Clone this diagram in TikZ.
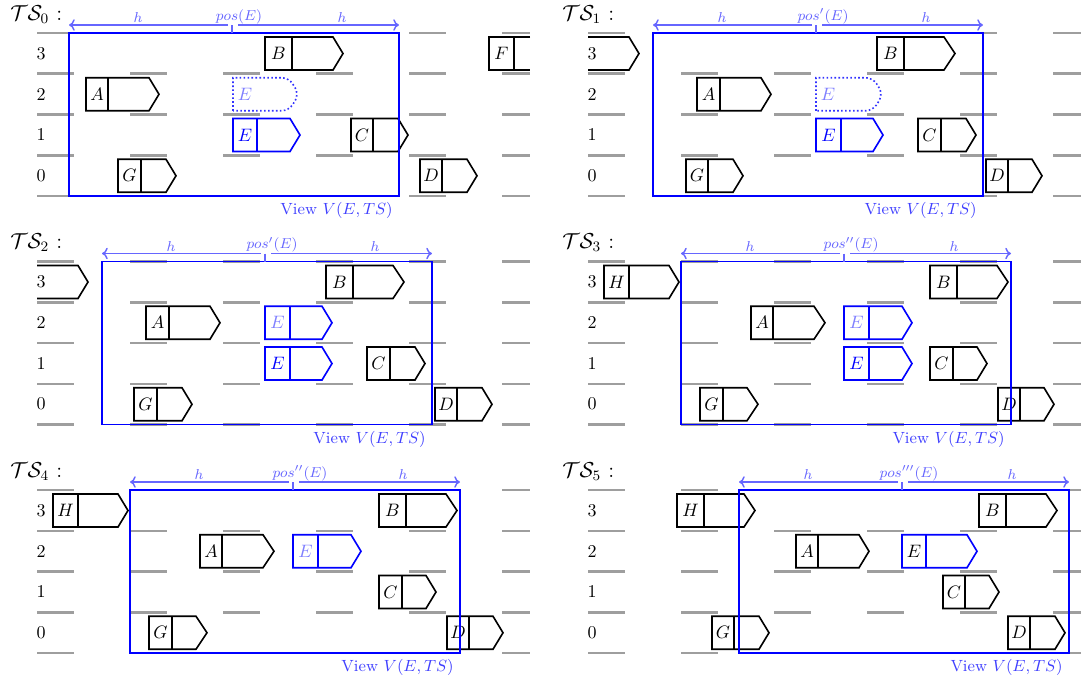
\documentclass[tikz,border=0pt]{standalone}
\usetikzlibrary{arrows.meta}
\begin{document}
\tikzset{
 lane/.style={draw=black!38, line width=1.4pt},
 carline/.style={line width=0.9pt},
 ghostline/.style={draw=blue!80, line width=0.9pt, dash pattern=on 0.9pt off 1.3pt},
 viewbox/.style={draw=blue, line width=0.8pt},
 harrow/.style={draw=blue!60, line width=0.8pt, -{To[length=3.2pt,width=6.4pt]}},
 hlbl/.style={text=blue!60, font=\footnotesize, anchor=base, inner sep=0pt},
 viewlbl/.style={text=blue!75, font=\small, anchor=north east},
 lanenum/.style={inner sep=0pt},
 tslbl/.style={anchor=base west, inner sep=0pt, font=\large},
}
\newcommand{\lanes}[1]{%
 \foreach \i in {0,...,4}{\foreach \j in {0,...,4}{\draw[lane] ({#1+93*\i},{33+40.75*\j}) -- ++(37,0);}}%
 \foreach \j in {0,...,4}{\draw[lane] ({#1+465},{33+40.75*\j}) -- ++(28,0);}%
}
\newcommand{\lanenums}[1]{%
 \foreach \k/\lnum in {0/3,1/2,2/1,3/0}{\node[lanenum] (ln\lnum) at ({#1+4},{53.4+40.75*\k}) {\lnum};}%
}
\newcommand{\mycar}[8]{%
 \pgfmathsetmacro\ct{37+(3-#4)*40.75}%
 \pgfmathsetmacro\cb{\ct+33}%
 \pgfmathsetmacro\cm{\ct+16.5}%
 \draw[carline,draw=#1] (#5,\ct) -- (#7,\ct) -- (#8,\cm) -- (#7,\cb) -- (#5,\cb) -- cycle (#6,\ct) -- (#6,\cb);
 \node[text=#2] (car#3) at ({(#5+#6)/2},\cm) {$#3$};
}
% car cut off on its right side at x=#4
\newcommand{\carcutright}[5]{%
 \pgfmathsetmacro\ct{37+(3-#1)*40.75}%
 \pgfmathsetmacro\cb{\ct+33}%
 \pgfmathsetmacro\cm{\ct+16.5}%
 \draw[carline] (#4,\ct) -- (#2,\ct) -- (#2,\cb) -- (#4,\cb) (#3,\ct) -- (#3,\cb);
 \node (car#5) at ({(#2+#3)/2},\cm) {$#5$};
}
% car cut off on its left side at x=#2
\newcommand{\carcutleft}[4]{%
 \pgfmathsetmacro\ct{37+(3-#1)*40.75}%
 \pgfmathsetmacro\cb{\ct+33}%
 \pgfmathsetmacro\cm{\ct+16.5}%
 \draw[carline] (#2,\ct) -- (#3,\ct) -- (#4,\cm) -- (#3,\cb) -- (#2,\cb);
}
\newcommand{\ghost}[4]{%
 \pgfmathsetmacro\ct{37+(3-#1)*40.75}%
 \pgfmathsetmacro\cb{\ct+33}%
 \pgfmathsetmacro\cm{\ct+16.5}%
 \draw[ghostline] (#2,\cb) -- (#2,\ct) [rounded corners=4pt] -- (#3,\ct) -- (#4,\cm) -- (#3,\cb) [sharp corners] -- cycle;
 \node[text=blue!50] (ghostE) at ({#2+12},\cm) {$E$};
}
\newcommand{\view}[2]{%
 \pgfmathsetmacro\vl{#1-163}%
 \pgfmathsetmacro\vr{#1+167}%
 \draw[viewbox] (\vl,33) rectangle (\vr,196);
 \node[viewlbl] (viewlabel) at (\vr,196) {View $V(E,TS)$};
 \draw[harrow] ({#1-4},25) -- (\vl,25);
 \draw[harrow] ({#1+6},25) -- (\vr,25);
 \draw[blue!60, line width=0.8pt] (#1,25) -- (#1,33);
 \node[hlbl] (hl) at ({#1-94},22.5) {$h$};
 \node[hlbl] (hr) at ({#1+110},22.5) {$h$};
 \node[hlbl] (poslbl) at ({#1+7},20) {$#2$};
}
\begin{tikzpicture}[x=0.5556pt,y=-0.5556pt]
\useasboundingbox (0,0) rectangle (1088,679);
% ---------- TS0 ----------
\begin{scope}
 \node[tslbl] (ts0) at (10,20) {$\mathcal{T}\mathcal{S}_0$ :};
 \lanes{37}
 \mycar{black}{black}{B}{3}{265}{292}{333}{343}
 \mycar{black}{black}{A}{2}{86}{108}{149}{159}
 \ghost{2}{233}{289}{299}
 \mycar{blue}{blue}{E}{1}{233}{257}{290}{300}
 \mycar{black}{black}{C}{1}{351}{373}{398}{408}
 \mycar{black}{black}{G}{0}{118}{141}{166}{176}
 \mycar{black}{black}{D}{0}{420}{442}{467}{477}
 \carcutright{3}{489}{514}{530}{F}
 \lanenums{37}
 \view{232}{pos(E)}
\end{scope}
% ---------- TS1 ----------
\begin{scope}
 \node[tslbl] (ts1) at (562,20) {$\mathcal{T}\mathcal{S}_1$ :};
 \lanes{588}
 \carcutleft{3}{588}{629}{639}
 \mycar{black}{black}{A}{2}{697}{720}{761}{771}
 \ghost{2}{816}{873}{883}
 \mycar{blue}{blue}{E}{1}{816}{841}{873}{883}
 \mycar{black}{black}{B}{3}{877}{904}{944}{955}
 \mycar{black}{black}{C}{1}{918}{941}{966}{976}
 \mycar{black}{black}{G}{0}{686}{708}{733}{743}
 \mycar{black}{black}{D}{0}{986}{1008}{1032}{1042}
 \lanenums{588}
 \view{816}{pos'(E)}
\end{scope}
% ---------- TS2 ----------
\begin{scope}[shift={(0,228.5)}]
 \node[tslbl] (ts2) at (10,20) {$\mathcal{T}\mathcal{S}_2$ :};
 \lanes{37}
 \carcutleft{3}{37}{78}{88}
 \mycar{black}{black}{A}{2}{146}{169}{210}{220}
 \mycar{blue}{blue!50}{E}{2}{265}{290}{322}{332}
 \mycar{blue}{blue}{E}{1}{265}{290}{322}{332}
 \mycar{black}{black}{B}{3}{326}{353}{393}{404}
 \mycar{black}{black}{C}{1}{367}{390}{415}{425}
 \mycar{black}{black}{G}{0}{134}{157}{182}{192}
 \mycar{black}{black}{D}{0}{435}{457}{482}{492}
 \lanenums{37}
 \view{265}{pos'(E)}
\end{scope}
% ---------- TS3 ----------
\begin{scope}[shift={(0,228.5)}]
 \node[tslbl] (ts3) at (562,20) {$\mathcal{T}\mathcal{S}_3$ :};
 \lanes{588}
 \mycar{black}{black}{H}{3}{604}{629}{669}{679}
 \mycar{black}{black}{A}{2}{751}{773}{814}{825}
 \mycar{blue}{blue!50}{E}{2}{844}{869}{902}{912}
 \mycar{blue}{blue}{E}{1}{844}{869}{902}{912}
 \mycar{black}{black}{B}{3}{930}{957}{997}{1008}
 \mycar{black}{black}{C}{1}{930}{953}{977}{987}
 \mycar{black}{black}{G}{0}{700}{723}{747}{758}
 \mycar{black}{black}{D}{0}{998}{1020}{1044}{1054}
 \lanenums{588}
 \view{844}{pos''(E)}
\end{scope}
% ---------- TS4 ----------
\begin{scope}[shift={(0,457)}]
 \node[tslbl] (ts4) at (10,20) {$\mathcal{T}\mathcal{S}_4$ :};
 \lanes{37}
 \mycar{black}{black}{H}{3}{53}{78}{118}{128}
 \mycar{black}{black}{A}{2}{200}{222}{263}{274}
 \mycar{blue}{blue!50}{E}{2}{293}{318}{351}{361}
 \mycar{black}{black}{B}{3}{379}{406}{446}{457}
 \mycar{black}{black}{C}{1}{379}{402}{426}{436}
 \mycar{black}{black}{G}{0}{149}{172}{196}{207}
 \mycar{black}{black}{D}{0}{447}{469}{493}{503}
 \lanenums{37}
 \view{293}{pos''(E)}
\end{scope}
% ---------- TS5 ----------
\begin{scope}[shift={(0,457)}]
 \node[tslbl] (ts5) at (562,20) {$\mathcal{T}\mathcal{S}_5$ :};
 \lanes{588}
 \mycar{black}{black}{H}{3}{677}{704}{744}{755}
 \mycar{black}{black}{A}{2}{796}{818}{859}{869}
 \mycar{blue}{black}{E}{2}{902}{926}{967}{977}
 \mycar{black}{black}{B}{3}{979}{1006}{1046}{1057}
 \mycar{black}{black}{C}{1}{943}{965}{989}{999}
 \mycar{black}{black}{G}{0}{712}{734}{759}{769}
 \mycar{black}{black}{D}{0}{1008}{1030}{1055}{1065}
 \lanenums{588}
 \view{902}{pos'''(E)}
\end{scope}
\end{tikzpicture}
\end{document}
